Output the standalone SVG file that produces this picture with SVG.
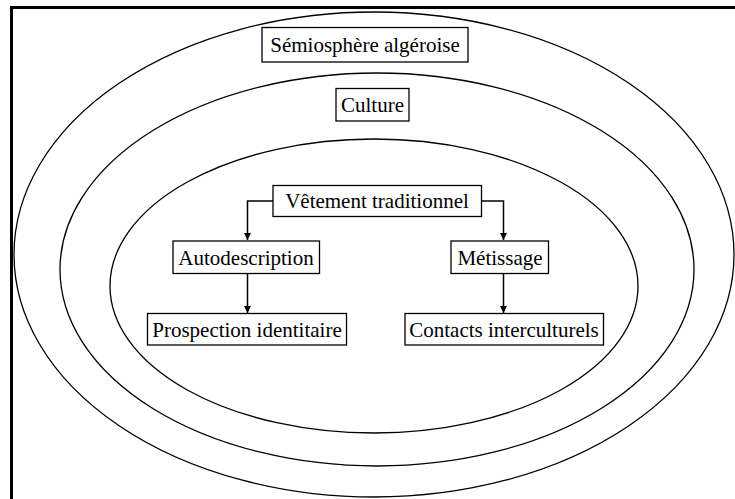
<svg xmlns="http://www.w3.org/2000/svg" width="735" height="499" viewBox="0 0 735 499">
<style>
.el{fill:none;stroke:#000;stroke-width:1.3}
.box{fill:#fff;stroke:#000;stroke-width:1.3}
.t{font-family:"Liberation Serif","Times New Roman",serif;font-size:21px;fill:#000;text-anchor:middle}
.c{fill:none;stroke:#000;stroke-width:1.5}
</style>
<defs>
<marker id="ar" viewBox="0 0 10 10" refX="10" refY="5" markerWidth="7" markerHeight="7" markerUnits="userSpaceOnUse" orient="auto">
<path d="M0,0 L10,5 L0,10 z" fill="#000"/>
</marker>
</defs>
<rect width="735" height="499" fill="#fff"/>
<g id="frame" fill="none" stroke="#000" stroke-width="3">
<path d="M11.5,499 V7.5 H735"/>
</g>
<g id="ellipses">
<ellipse class="el" cx="374" cy="254.5" rx="360" ry="242.5"/>
<ellipse class="el" cx="377" cy="269.5" rx="317" ry="196.5"/>
<ellipse class="el" cx="374" cy="286" rx="264" ry="147"/>
</g>
<g id="connectors">
<path class="c" d="M273,201 H247.5 V240" marker-end="url(#ar)"/>
<path class="c" d="M481.5,201 H503.5 V240" marker-end="url(#ar)"/>
<path class="c" d="M247.5,273.5 V313" marker-end="url(#ar)"/>
<path class="c" d="M503.5,273.5 V313" marker-end="url(#ar)"/>
</g>
<g id="semiosphere">
<rect class="box" x="262" y="27.5" width="206" height="34.5"/>
<text class="t" x="365" y="52">Sémiosphère algéroise</text>
</g>
<g id="culture">
<rect class="box" x="336" y="88.5" width="73" height="32.5"/>
<text class="t" x="372.5" y="112">Culture</text>
</g>
<g id="vetement">
<rect class="box" x="273" y="185.5" width="208.5" height="31"/>
<text class="t" x="377" y="207.5">Vêtement traditionnel</text>
</g>
<g id="autodescription">
<rect class="box" x="173" y="241" width="146.5" height="32.5"/>
<text class="t" x="246" y="264.5">Autodescription</text>
</g>
<g id="metissage">
<rect class="box" x="451" y="241" width="97.5" height="32.5"/>
<text class="t" x="500" y="264.5">Métissage</text>
</g>
<g id="prospection">
<rect class="box" x="147.5" y="313.5" width="199" height="31.5"/>
<text class="t" x="247" y="336.5">Prospection identitaire</text>
</g>
<g id="contacts">
<rect class="box" x="405" y="313.5" width="198.5" height="31.5"/>
<text class="t" x="504" y="336.5">Contacts interculturels</text>
</g>
</svg>
